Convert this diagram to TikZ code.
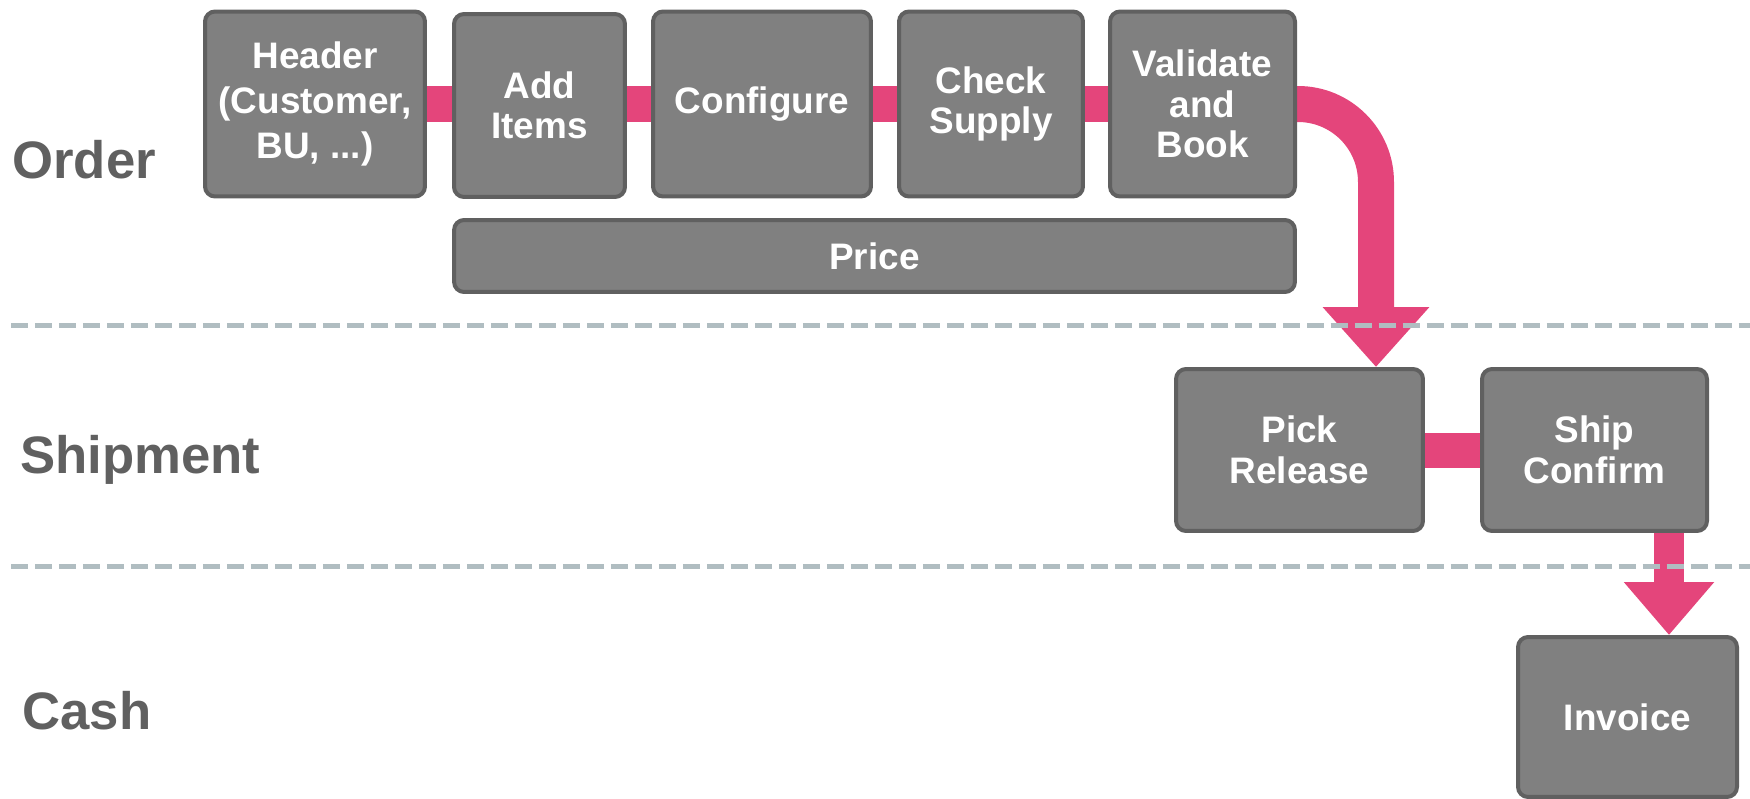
\documentclass[tikz,border=0pt]{standalone}
\usepackage{fontspec}
\setmainfont{Liberation Sans}
\usepackage{tikz}
\usetikzlibrary{arrows.meta, backgrounds, positioning}
\definecolor{boxgray}{RGB}{128,128,128}
\definecolor{rimgray}{RGB}{96,96,96}
\definecolor{lanegray}{RGB}{96,96,96}
\definecolor{flowpink}{RGB}{228,69,123}
\definecolor{dashgray}{RGB}{176,189,193}
\tikzstyle{process-box}=[fill=boxgray, draw=rimgray, line width=0.08cm, rectangle, rounded corners=0.2cm, text=white, align=center, inner sep=0pt, font=\bfseries\fontsize{21}{23}\selectfont]
\tikzstyle{lane-label}=[text=lanegray, anchor=base west, inner sep=0pt, font=\bfseries\fontsize{30}{36}\selectfont]
\tikzstyle{lane-divider}=[draw=dashgray, line width=0.1cm, dash pattern=on 0.34cm off 0.14cm]
\tikzstyle{flow-bar}=[draw=flowpink, line width=0.72cm]

\begin{document}
\begin{tikzpicture}[x=0.02cm, y=-0.02cm]
\useasboundingbox (0,0) rectangle (1750,798);

\node[lane-label] (order) at (12,178) {Order};
\node[lane-label] (shipment) at (20,473) {Shipment};
\node[lane-label] (cash) at (22,729) {Cash};

\draw[lane-divider] (11,325) -- (1750,325);
\draw[lane-divider] (11,566) -- (1750,566);

\node[process-box, minimum width=4.40cm, minimum height=3.70cm, font=\bfseries\fontsize{21}{25.5}\selectfont] (header) at (315,104) {Header\\(Customer,\\BU, ...)};
\node[process-box, minimum width=3.42cm, minimum height=3.66cm] (add) at (539.5,105.5) {Add\\Items};
\node[process-box, minimum width=4.36cm, minimum height=3.70cm] (config) at (762,104) {Configure};
\node[process-box, minimum width=3.68cm, minimum height=3.70cm] (check) at (991,104) {Check\\Supply};
\node[process-box, minimum width=3.70cm, minimum height=3.70cm] (valid) at (1202.5,104) {Validate\\and\\Book};
\node[process-box, minimum width=16.82cm, minimum height=1.44cm] (price) at (874.5,256) {Price};

\node[process-box, minimum width=4.94cm, minimum height=3.24cm] (pick) at (1299.5,450) {Pick\\Release};
\node[process-box, minimum width=4.50cm, minimum height=3.24cm] (ship) at (1594.5,450) {Ship\\Confirm};
\node[process-box, minimum width=4.38cm, minimum height=3.20cm] (inv) at (1627.5,717) {Invoice};

\coordinate (drop) at ([xshift=-0.98cm]pick.north east);
\coordinate (ship-out) at ([xshift=-0.80cm]ship.south east);

\begin{scope}[on background layer]
\draw[flow-bar] (header.east) -- (header.east -| add.west);
\draw[flow-bar] (add.east |- header.east) -- (header.east -| config.west);
\draw[flow-bar] (config.east) -- (check.west);
\draw[flow-bar] (check.east) -- (valid.west);
\draw[flow-bar, rounded corners=1.56cm, -{Triangle[width=2.06cm, length=1.20cm]}] (valid.east) -| (drop);
\draw[flow-bar, line width=0.70cm] (pick.east) -- (ship.west);
\draw[flow-bar, line width=0.60cm, -{Triangle[width=1.74cm, length=1.06cm]}] (ship-out) -- (ship-out |- inv.north);
\end{scope}
\end{tikzpicture}
\end{document}
